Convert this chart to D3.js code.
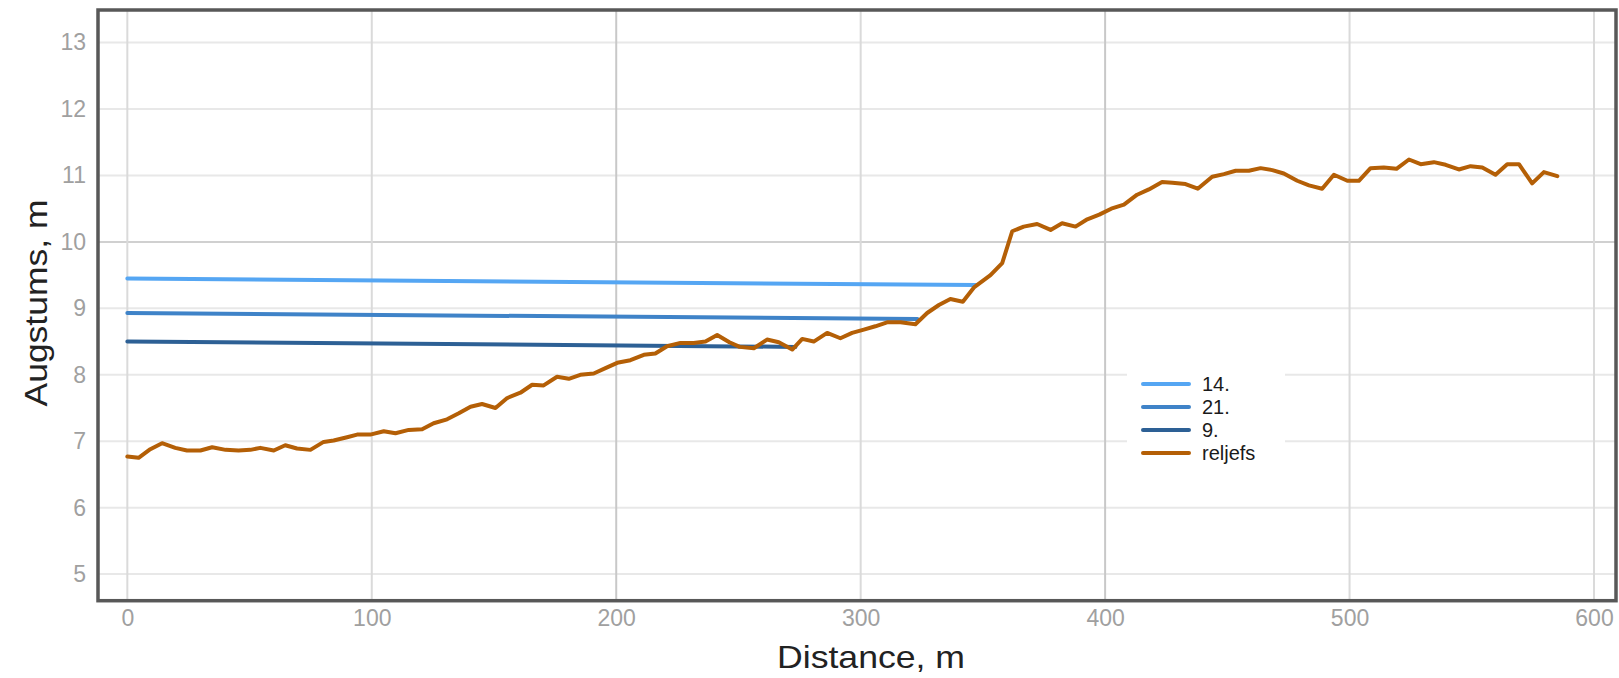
<!DOCTYPE html>
<html>
<head>
<meta charset="utf-8">
<script src="https://cdn.jsdelivr.net/npm/d3@7"></script>
<style>
  body { margin: 0; background: #fff; }
  svg { display: block; font-family: "Liberation Sans", Arial, sans-serif; }
</style>
</head>
<body>
<div id="chart"></div>
<script>
// distance along the profile (m) and terrain height (m)
const reljefsDist = [0, 4.6, 9.4, 14.2, 19.6, 24.4, 29.9, 34.7, 40.2, 45.5, 50.3, 54.4, 59.9, 64.6, 69.4, 74.9,
  80.3, 84.4, 89.9, 94.0, 99.4, 104.9, 109.7, 115.1, 120.6, 125.3, 130.8, 135.6, 140.4, 145.1, 150.6, 155.4,
  160.8, 165.6, 170.3, 175.8, 180.6, 185.3, 190.8, 195.6, 200.4, 205.8, 211.3, 216.0, 220.8, 226.3, 231.7,
  236.5, 241.3, 246.3, 250.5, 256.3, 261.7, 266.5, 272.0, 276.1, 280.8, 286.3, 291.7, 296.5, 301.3, 306.0,
  310.8, 316.3, 322.4, 327.2, 332.0, 336.7, 341.8, 346.5, 353.1, 357.9, 362.0, 366.7, 372.2, 377.7, 382.4,
  387.9, 392.7, 397.6, 402.5, 407.7, 413.1, 417.9, 423.3, 427.5, 432.9, 437.9, 443.8, 448.6, 453.4, 458.8,
  463.6, 468.4, 473.1, 478.6, 483.4, 488.8, 493.6, 499.1, 503.8, 508.6, 514.0, 519.2, 524.3, 529.1, 534.5,
  539.3, 544.7, 549.5, 554.3, 559.7, 564.5, 569.3, 574.7, 579.5, 585.0];
const reljefsHeight = [6.77, 6.75, 6.88, 6.97, 6.90, 6.86, 6.86, 6.91, 6.87, 6.86, 6.87, 6.90, 6.86, 6.94, 6.89, 6.87,
  6.99, 7.01, 7.06, 7.10, 7.10, 7.15, 7.12, 7.17, 7.18, 7.27, 7.33, 7.42, 7.52, 7.56, 7.50, 7.65,
  7.73, 7.85, 7.84, 7.97, 7.94, 8.00, 8.02, 8.10, 8.18, 8.22, 8.30, 8.32, 8.43, 8.48, 8.48,
  8.50, 8.60, 8.49, 8.42, 8.40, 8.53, 8.49, 8.38, 8.54, 8.50, 8.63, 8.55, 8.63, 8.68, 8.73,
  8.79, 8.79, 8.76, 8.93, 9.05, 9.14, 9.10, 9.32, 9.50, 9.68, 10.16, 10.23, 10.27, 10.18, 10.28,
  10.23, 10.34, 10.41, 10.50, 10.56, 10.71, 10.79, 10.90, 10.89, 10.87, 10.80, 10.98, 11.02, 11.07, 11.07,
  11.11, 11.08, 11.03, 10.92, 10.85, 10.80, 11.01, 10.92, 10.92, 11.11, 11.12, 11.10, 11.24, 11.17, 11.20,
  11.16, 11.09, 11.14, 11.12, 11.01, 11.17, 11.17, 10.88, 11.05, 10.99];

// water levels: start and end of each level line
const level14Dist = [0, 347.3];
const level14Height = [9.45, 9.35];
const level21Dist = [0, 323.2];
const level21Height = [8.93, 8.84];
const level9Dist = [0, 273.3];
const level9Height = [8.50, 8.42];

const seriesNames = ["14.", "21.", "9.", "reljefs"];
const seriesColors = ["#55a6f3", "#3f83c8", "#2d6095", "#b45f06"];

const xTicks = [0, 100, 200, 300, 400, 500, 600];
const yTicks = [5, 6, 7, 8, 9, 10, 11, 12, 13];

const width = 1619, height = 678;
const plotLeft = 98, plotRight = 1616, plotTop = 10, plotBottom = 600.7;

const svg = d3.select("#chart").append("svg")
    .attr("width", width)
    .attr("height", height);

const x = d3.scaleLinear().domain([-12, 609]).range([plotLeft, plotRight]);
const y = d3.scaleLinear().domain([4.6, 13.49]).range([plotBottom, plotTop]);

// grid
const grid = svg.append("g");
grid.selectAll(".hgrid").data(yTicks).enter().append("line")
    .attr("x1", plotLeft).attr("x2", plotRight)
    .attr("y1", d => y(d)).attr("y2", d => y(d))
    .attr("stroke", d => d === 10 ? "#d0d0d0" : "#e8e8e8")
    .attr("stroke-width", 2);
grid.selectAll(".vgrid").data(xTicks).enter().append("line")
    .attr("x1", d => x(d)).attr("x2", d => x(d))
    .attr("y1", plotTop).attr("y2", plotBottom)
    .attr("stroke", d => (d === 200 || d === 400) ? "#c8c8c8" : "#dadada")
    .attr("stroke-width", 2);

// axes (labels only)
const xAxis = svg.append("g")
    .attr("transform", `translate(0,${plotBottom})`)
    .call(d3.axisBottom(x).tickValues(xTicks).tickSize(0).tickPadding(9));
const yAxis = svg.append("g")
    .attr("transform", `translate(${plotLeft},0)`)
    .call(d3.axisLeft(y).tickValues(yTicks).tickSize(0).tickPadding(12));
[xAxis, yAxis].forEach(a => {
    a.select(".domain").remove();
    a.selectAll("text")
        .attr("font-size", 23)
        .attr("font-family", "'Liberation Sans', Arial, sans-serif")
        .attr("fill", "#a0a0a0");
});

// lines
const line = d3.line().x(d => x(d[0])).y(d => y(d[1]));
const seriesData = [
    d3.zip(level14Dist, level14Height),
    d3.zip(level21Dist, level21Height),
    d3.zip(level9Dist, level9Height),
    d3.zip(reljefsDist, reljefsHeight)
];
svg.append("g").selectAll("path").data(seriesData).enter().append("path")
    .attr("d", line)
    .attr("fill", "none")
    .attr("stroke", (d, i) => seriesColors[i])
    .attr("stroke-width", 4)
    .attr("stroke-linejoin", "round")
    .attr("stroke-linecap", "round");

// frame
svg.append("rect")
    .attr("x", plotLeft).attr("y", plotTop)
    .attr("width", plotRight - plotLeft).attr("height", plotBottom - plotTop)
    .attr("fill", "none")
    .attr("stroke", "#585858")
    .attr("stroke-width", 3.5);

// legend
const legend = svg.append("g");
legend.append("rect")
    .attr("x", 1127).attr("y", 373)
    .attr("width", 158).attr("height", 93)
    .attr("fill", "#fff");
const rows = legend.selectAll(".row").data(seriesNames).enter().append("g")
    .attr("transform", (d, i) => `translate(1143,${384 + i * 23})`);
rows.append("line")
    .attr("x1", 0).attr("x2", 46)
    .attr("stroke", (d, i) => seriesColors[i])
    .attr("stroke-width", 4)
    .attr("stroke-linecap", "round");
rows.append("text")
    .attr("x", 59).attr("dy", "0.35em")
    .attr("font-size", 20)
    .attr("fill", "#1a1a1a")
    .text(d => d);

// axis titles
svg.append("text")
    .attr("x", 871).attr("y", 668)
    .attr("text-anchor", "middle")
    .attr("font-size", 32)
    .attr("fill", "#222")
    .attr("textLength", 188)
    .attr("lengthAdjust", "spacingAndGlyphs")
    .text("Distance, m");
svg.append("text")
    .attr("transform", "translate(47,303) rotate(-90)")
    .attr("text-anchor", "middle")
    .attr("font-size", 31)
    .attr("fill", "#222")
    .attr("textLength", 207)
    .attr("lengthAdjust", "spacingAndGlyphs")
    .text("Augstums, m");
</script>
</body>
</html>
